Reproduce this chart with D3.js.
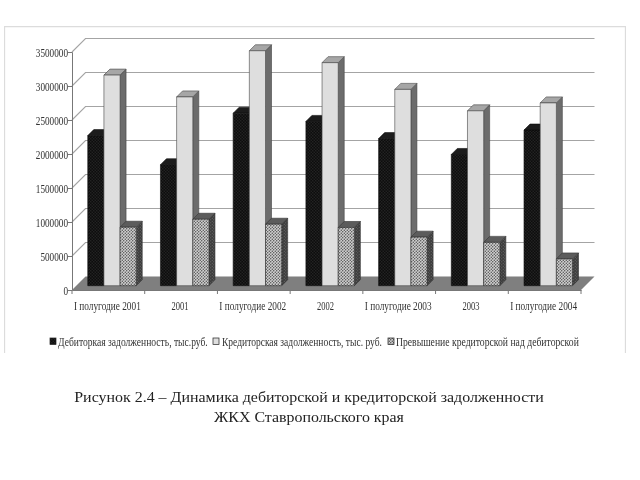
<!DOCTYPE html>
<html><head><meta charset="utf-8">
<script src="https://cdn.jsdelivr.net/npm/d3@7/dist/d3.min.js"></script>
<style>html,body{margin:0;background:#fff}svg{display:block}text{font-family:"Liberation Serif",serif}</style>
</head><body><script>
const categories=["I полугодие 2001","2001","I полугодие 2002","2002","I полугодие 2003","2003","I полугодие 2004"];
const debtors=[2207000,1779000,2537000,2416000,2163000,1930000,2289000];
const creditors=[3097000,2776000,3455000,3280000,2887000,2572000,2688000];
const excess=[860000,977000,904000,856000,714000,637000,394000];
const seriesNames=["Дебиторкая задолженность, тыс.руб.","Кредиторская задолженность, тыс. руб.","Превышение кредиторской над дебиторской"];
const yTicks=[0,500000,1000000,1500000,2000000,2500000,3000000,3500000];
const captionLines=["Рисунок 2.4 – Динамика дебиторской и кредиторской задолженности","ЖКХ Ставропольского края"];

const svg=d3.select("body").append("svg").attr("width",640).attr("height",480);
const defs=svg.append("defs");
defs.append("filter").attr("id","soft").attr("x",0).attr("y",0).attr("width",1).attr("height",1)
  .append("feGaussianBlur").attr("stdDeviation",0.55);
function dots(id,bg,fg,s,r){
  const p=defs.append("pattern").attr("id",id).attr("patternUnits","userSpaceOnUse").attr("width",s).attr("height",s);
  p.append("rect").attr("width",s).attr("height",s).attr("fill",bg);
  p.append("circle").attr("cx",s/4).attr("cy",s/4).attr("r",r).attr("fill",fg);
  p.append("circle").attr("cx",3*s/4).attr("cy",3*s/4).attr("r",r).attr("fill",fg);
}
dots("pBlack","#0f0f0f","#333",3,.55);
dots("pDot","#d0d0d0","#444",3,.7);
dots("pDotSide","#3c3c3c","#777",3,.5);

// squeeze a text horizontally to a measured width, anchored at left, middle or right
function fit(sel,w,ax,ay,anchor){
  sel.each(function(d,i){
    const t=d3.select(this), W=typeof w==="function"?w(d,i):w;
    const n=this.getComputedTextLength(), k=W/n;
    const X=typeof ax==="function"?ax(d,i):ax, Y=typeof ay==="function"?ay(d,i):ay;
    t.attr("x",0).attr("y",0).attr("dy",null).attr("text-anchor",anchor)
     .attr("transform",`translate(${X},${Y}) scale(${k},1)`);
  });
}

const root=svg.append("g").attr("filter","url(#soft)");
root.append("path").attr("d","M4.5,353V26.5H625.5V353").attr("fill","none").attr("stroke","#dcdcdc").attr("stroke-width",1.3);

const x0=72,x1=581,yBase=290,yTop=52,depth=13.5,barDepth=6,barLift=4.3;
const x=d3.scaleBand().domain(categories).range([x0,x1]).paddingInner(0.334).paddingOuter(0.167);
const y=d3.scaleLinear().domain([0,3500000]).range([yBase,yTop]);
const bx=d3.scaleBand().domain([0,1,2]).range([0,48.5]);
const grid="#a4a4a4";

root.append("g").selectAll("path").data(yTicks.slice(1)).join("path")
  .attr("d",v=>`M${x0},${y(v)}L${x0+depth},${y(v)-depth}H${x1+depth}`)
  .attr("fill","none").attr("stroke",grid).attr("stroke-width",1.1);
root.append("path").attr("d",`M${x0},${y(0)}L${x0+depth},${y(0)-depth}H${x1+depth}L${x1},${y(0)}Z`).attr("fill","#7f7f7f");

const yAxis=d3.axisLeft(y).tickValues(yTicks).tickFormat(d3.format("d")).tickSize(4).tickPadding(1);
const gy=root.append("g").attr("transform",`translate(${x0},0)`).call(yAxis);
gy.select(".domain").attr("stroke","#777");
gy.selectAll(".tick line").attr("stroke","#777");
gy.selectAll("text").attr("font-size",13.5).attr("fill","#333");
fit(gy.selectAll("text"),d=>String(d).length*4.6,-4,4.5,"end");

const xAxis=d3.axisBottom(x).tickSize(0).tickPadding(12);
const gx=root.append("g").attr("transform",`translate(0,${yBase})`).call(xAxis);
gx.select(".domain").attr("stroke","#777");
gx.selectAll("text").attr("font-size",13.5).attr("fill","#333");
fit(gx.selectAll("text"),d=>d.length>4?67:17,-1,20,"middle");
gx.selectAll(".sep").data(categories.concat(["end"])).join("line").attr("class","sep")
  .attr("x1",(d,i)=>x0+i*x.step()).attr("x2",(d,i)=>x0+i*x.step()).attr("y1",0).attr("y2",4).attr("stroke","#777");

const series=[
 {values:debtors,front:"url(#pBlack)",top:"#1c1c1c",side:"#101010",stroke:"#111"},
 {values:creditors,front:"#dedede",top:"#a6a6a6",side:"#6c6c6c",stroke:"#444"},
 {values:excess,front:"url(#pDot)",top:"#5c5c5c",side:"url(#pDotSide)",stroke:"#333"}
];
series.forEach((s,si)=>{
  const g=root.append("g");
  s.values.forEach((v,i)=>{
    const L=x(categories[i])+bx(si)+barLift-.7, R=L+bx.bandwidth();
    const T=y(v)-barLift, B=y(0)-barLift, d=barDepth;
    const mk=(p,f)=>g.append("path").attr("d",p).attr("fill",f).attr("stroke",s.stroke).attr("stroke-width",.6);
    mk(`M${R},${T}l${d},${-d}V${B-d}L${R},${B}Z`,s.side);
    mk(`M${L},${T}l${d},${-d}H${R+d}L${R},${T}Z`,s.top);
    mk(`M${L},${T}H${R}V${B}H${L}Z`,s.front);
  });
});

const legendX=[50,213,388], legendT=[58,222,396], legendW=[150,160,183];
const swatch=["url(#pBlack)","#dedede","url(#pDot)"];
const lg=root.append("g");
seriesNames.forEach((n,i)=>{
  lg.append("rect").attr("x",legendX[i]).attr("y",338).attr("width",6).attr("height",6.5).attr("fill",swatch[i]).attr("stroke","#222").attr("stroke-width",.7);
  lg.append("text").attr("font-size",13.5).attr("fill","#333").text(n).call(fit,legendW[i],legendT[i],346,"start");
});

const cap=root.append("g").attr("fill","#222").attr("font-size",15);
cap.append("text").text(captionLines[0]).call(fit,470,309,402,"middle");
cap.append("text").text(captionLines[1]).call(fit,190,309,422,"middle");
</script></body></html>
